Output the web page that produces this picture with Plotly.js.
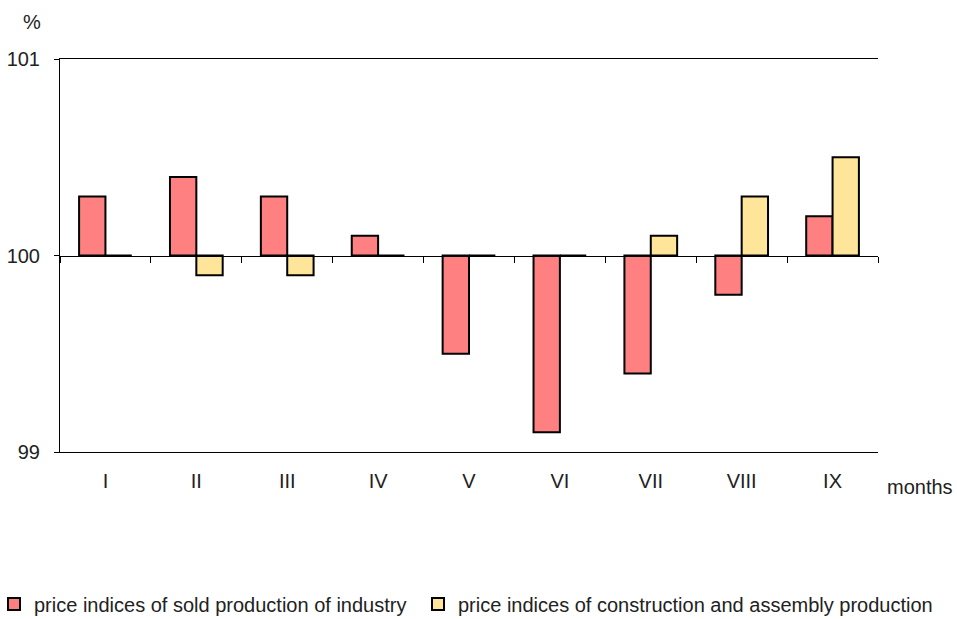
<!DOCTYPE html>
<html>
<head>
<meta charset="utf-8">
<script src="https://cdn.plot.ly/plotly-3.0.1.min.js"></script>
<style>html,body{margin:0;padding:0;background:#fff;}#chart{width:957px;height:619px;}</style>
</head>
<body>
<div id="chart"></div>
<script>
const months = ['I', 'II', 'III', 'IV', 'V', 'VI', 'VII', 'VIII', 'IX'];
const industry = [100.3, 100.4, 100.3, 100.1, 99.5, 99.1, 99.4, 99.8, 100.2];
const construction = [100.0, 99.9, 99.9, 100.0, 100.0, 100.0, 100.1, 100.3, 100.5];
const baseline = 100;
const yTicks = [99, 100, 101];
const seriesNames = ['price indices of sold production of industry', 'price indices of construction and assembly production'];

const dev = arr => arr.map(v => Math.round((v - baseline) * 1000) / 1000);

const traces = [
  {
    type: 'bar', x: months, y: dev(industry), base: baseline, name: seriesNames[0],
    xaxis: 'x2', yaxis: 'y', legend: 'legend',
    marker: {color: '#FF8080', line: {color: '#000000', width: 2}},
    customdata: industry, hovertemplate: '%{x}: %{customdata}<extra></extra>'
  },
  {
    type: 'bar', x: months, y: dev(construction), base: baseline, name: seriesNames[1],
    xaxis: 'x2', yaxis: 'y', legend: 'legend2',
    marker: {color: '#FFE599', line: {color: '#000000', width: 2}},
    customdata: construction, hovertemplate: '%{x}: %{customdata}<extra></extra>'
  },
  {
    type: 'scatter', mode: 'markers', x: months, y: months.map(() => baseline),
    xaxis: 'x', yaxis: 'y', marker: {opacity: 0}, showlegend: false, hoverinfo: 'skip'
  }
];

const legendCommon = {
  orientation: 'h', xanchor: 'left', y: -152 / 393, yanchor: 'middle',
  font: {size: 20, color: '#222222'}, itemwidth: 30, bgcolor: 'rgba(0,0,0,0)'
};

const layout = {
  width: 957, height: 619,
  margin: {l: 60, r: 79, t: 59, b: 167, autoexpand: false},
  paper_bgcolor: '#ffffff', plot_bgcolor: '#ffffff',
  font: {family: 'Liberation Sans, Arial, sans-serif', size: 20, color: '#222222'},
  barmode: 'group', bargap: 0.42, bargroupgap: 0,
  showlegend: true,
  legend: Object.assign({}, legendCommon, {x: -66 / 818}),
  legend2: Object.assign({}, legendCommon, {x: 358 / 818}),
  xaxis: {
    type: 'category', showline: true, linecolor: '#000000', linewidth: 1, mirror: true,
    ticks: '', showgrid: false, zeroline: false, automargin: false,
    tickfont: {size: 20, color: '#222222'}, ticklabelstandoff: 11
  },
  xaxis2: {
    type: 'category', overlaying: 'x', anchor: 'free', position: 0.5, matches: 'x',
    showline: true, linecolor: '#000000', linewidth: 1,
    ticks: 'outside', ticklen: 6, tickcolor: '#000000', tickson: 'boundaries',
    showticklabels: false, showgrid: false, zeroline: false, automargin: false
  },
  yaxis: {
    range: [99, 101], tickvals: yTicks, ticktext: yTicks.map(String),
    ticks: 'outside', ticklen: 5, tickcolor: '#000000',
    showline: true, linecolor: '#000000', linewidth: 1, automargin: false,
    showgrid: false, zeroline: false, tickfont: {size: 20, color: '#222222'}, ticklabelstandoff: 10
  },
  yaxis2: {
    overlaying: 'y', side: 'right', range: [99, 101], showline: true, linecolor: '#808080',
    ticks: '', showticklabels: false, showgrid: false, zeroline: false, automargin: false
  },
  annotations: [
    {text: '%', xref: 'paper', yref: 'paper', x: -28 / 818, y: 1 + 37 / 393, xanchor: 'center', yanchor: 'middle', showarrow: false, font: {size: 20, color: '#222222'}},
    {text: 'months', xref: 'paper', yref: 'paper', x: 860 / 818, y: -35 / 393, xanchor: 'center', yanchor: 'middle', showarrow: false, font: {size: 20, color: '#222222'}}
  ]
};

Plotly.newPlot('chart', traces, layout, {displayModeBar: false});
</script>
</body>
</html>
